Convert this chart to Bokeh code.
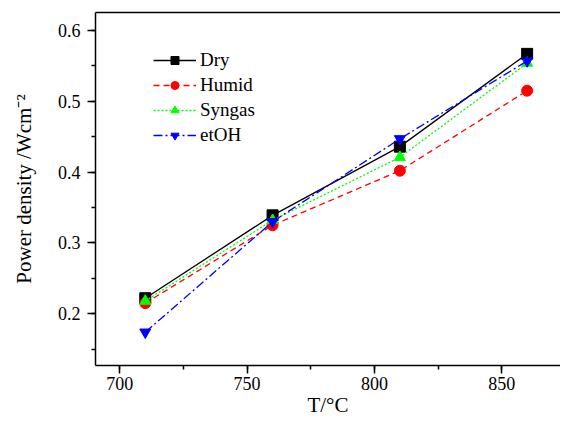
from bokeh.plotting import figure
from bokeh.models import (Range1d, SingleIntervalTicker, LinearAxis, FixedTicker,
                          Legend, LegendItem)
from bokeh.embed import file_html
from bokeh.resources import INLINE

# ---- data ----
temps = [710, 760, 810, 860]
dry = [0.222, 0.339, 0.436, 0.567]
humid = [0.215, 0.325, 0.402, 0.515]
syngas = [0.218, 0.332, 0.421, 0.554]
etoh = [0.174, 0.330, 0.447, 0.557]
series_names = ["Dry", "Humid", "Syngas", "etOH"]
x_label = "T/°C"
y_label = "Power density /Wcm⁻²"

FONT = "Liberation Serif"

p = figure(width=560, height=419, output_backend="svg", toolbar_location=None,
           x_range=Range1d(690.45, 873.1), y_range=Range1d(0.127, 0.6254),
           x_axis_type=None, y_axis_type=None)
p.min_border_left = 95
p.min_border_top = 12
p.min_border_right = 0
p.min_border_bottom = 54
p.outline_line_color = None
p.xgrid.visible = False
p.ygrid.visible = False
p.background_fill_color = "white"
p.border_fill_color = "white"


def style_axis(ax, font_size, label_size):
    ax.axis_line_color = "black"
    ax.axis_line_width = 1.5
    ax.major_tick_line_color = "black"
    ax.minor_tick_line_color = "black"
    ax.major_tick_line_width = 1.5
    ax.minor_tick_line_width = 1.5
    ax.major_tick_in = 0
    ax.major_tick_out = 8
    ax.minor_tick_in = 0
    ax.minor_tick_out = 4
    ax.major_label_text_font = FONT
    ax.major_label_text_font_style = "normal"
    ax.major_label_text_font_size = font_size
    ax.major_label_text_color = "black"
    ax.axis_label_text_font = FONT
    ax.axis_label_text_font_size = label_size
    ax.axis_label_text_font_style = "normal"
    ax.axis_label_text_color = "black"


xaxis = LinearAxis(ticker=SingleIntervalTicker(interval=50, num_minor_ticks=2),
                   axis_label=x_label)
style_axis(xaxis, "18px", "21px")
xaxis.major_label_standoff = 3
xaxis.axis_label_standoff = 0
p.add_layout(xaxis, "below")

yaxis = LinearAxis(ticker=SingleIntervalTicker(interval=0.1, num_minor_ticks=2),
                   axis_label=y_label)
style_axis(yaxis, "18px", "21px")
yaxis.major_label_standoff = 7
yaxis.axis_label_standoff = 19
p.add_layout(yaxis, "left")

top_axis = LinearAxis(ticker=FixedTicker(ticks=[]), major_label_text_font_size="0px",
                      axis_line_color="black", axis_line_width=1.5,
                      major_tick_line_color=None, minor_tick_line_color=None)
p.add_layout(top_axis, "above")

styles = [
    dict(data=dry, color="black", dash="solid", marker="square"),
    dict(data=humid, color="red", dash="6 4", marker="circle"),
    dict(data=syngas, color="#00ff00", dash="2 2", marker="triangle"),
    dict(data=etoh, color="blue", dash="9 3 2 3", marker="inverted_triangle"),
]

items = []
for name, s in zip(series_names, styles):
    ln = p.line(temps, s["data"], line_color=s["color"], line_width=1.3,
                line_dash=s["dash"])
    mk = p.scatter(temps, s["data"], marker=s["marker"], size=11,
                   fill_color=s["color"], line_color=s["color"])
    items.append(LegendItem(label=name, renderers=[ln, mk]))

legend = Legend(items=items, location=(58, 219))
legend.label_text_font = FONT
legend.label_text_font_style = "normal"
legend.label_text_font_size = "19px"
legend.label_text_color = "black"
legend.glyph_width = 43
legend.glyph_height = 20
legend.label_height = 20
legend.spacing = 3
legend.label_standoff = 4
legend.padding = 4
legend.border_line_color = None
legend.background_fill_alpha = 0
p.add_layout(legend, "center")

open("out.html", "w").write(file_html(p, INLINE))
